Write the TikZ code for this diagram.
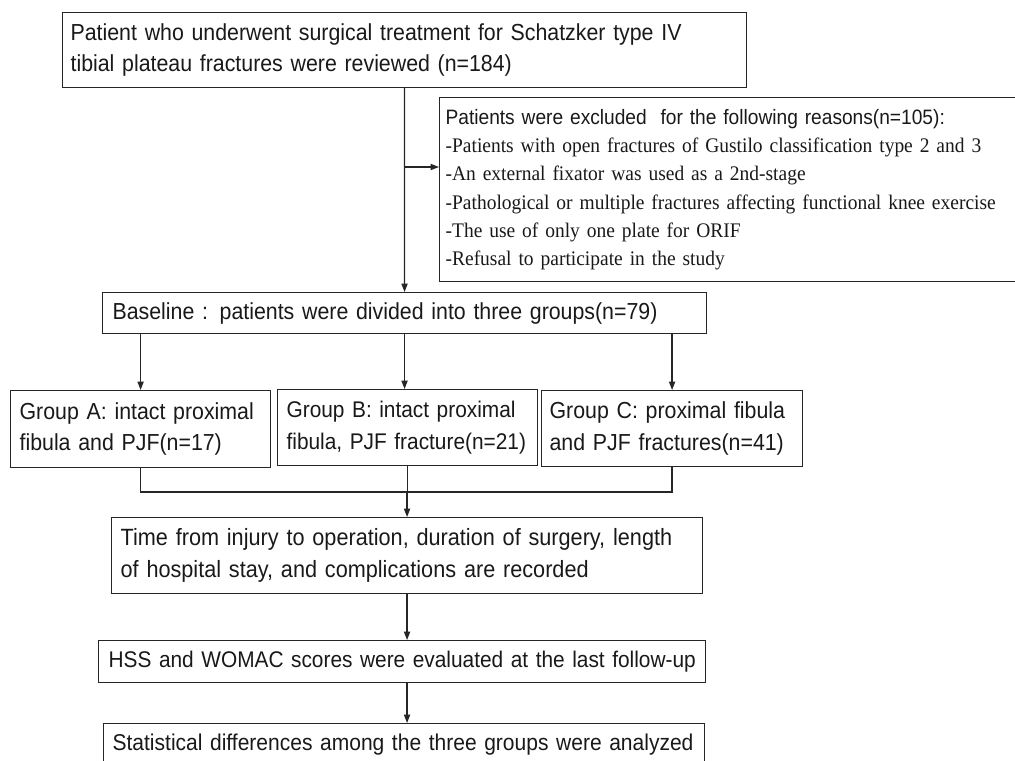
\documentclass[tikz,border=0pt]{standalone}
\usepackage{fontspec}
\setmainfont{Liberation Sans}[FakeStretch=0.92]
\newfontfamily\serifx{Liberation Serif}[FakeStretch=0.94]
\usetikzlibrary{arrows.meta}
\begin{document}
\begin{tikzpicture}[x=0.02cm,y=-0.02cm,
  box/.style={draw=black!85, line width=0.7pt, anchor=north west, inner ysep=0pt,
    align=left, text=black!90, font=\fontsize{13.2}{18}\selectfont},
  conn/.style={draw=black!85, line width=0.7pt},
  arr/.style={conn, -{Triangle[length=1.7mm,width=1.25mm]}}]
\useasboundingbox (0,0) rectangle (1015,761);
\node[box, minimum width=13.68cm, minimum height=1.5cm, text width=13.36cm, inner xsep=0.16cm]
  (top) at (62,12) {\mbox{Patient who underwent surgical treatment for Schatzker type IV}\\\mbox{tibial plateau fractures were reviewed (n=184)}};
\node[box, minimum width=11.82cm, minimum height=3.68cm, text width=11.58cm, inner xsep=0.12cm,
  font=\serifx\fontsize{11.8}{16.1}\selectfont]
  (excl) at (439,97) {\mbox{\rmfamily\fontsize{11.85}{16.1}\selectfont Patients were excluded\ \ for the following reasons(n=105):}\\
  \mbox{-Patients with open fractures of Gustilo classification type 2 and 3}\\
  \mbox{-An external fixator was used as a 2nd-stage}\\
  \mbox{-Pathological or multiple fractures affecting functional knee exercise}\\
  \mbox{-The use of only one plate for ORIF}\\
  \mbox{-Refusal to participate in the study}};
\node[box, minimum width=12.08cm, minimum height=0.82cm, text width=11.68cm, inner xsep=0.2cm]
  (base) at (102,292) {\mbox{Baseline : patients were divided into three groups(n=79)}};
\node[box, minimum width=5.2cm, minimum height=1.54cm, text width=4.84cm, inner xsep=0.18cm]
  (gA) at (10,390) {\mbox{Group A: intact proximal}\\\mbox{fibula and PJF(n=17)}};
\node[box, minimum width=5.2cm, minimum height=1.52cm, text width=4.84cm, inner xsep=0.18cm,
  font=\fontsize{12.9}{18}\selectfont]
  (gB) at (277,389) {\mbox{Group B: intact proximal}\\\mbox{fibula, PJF fracture(n=21)}};
\node[box, minimum width=5.22cm, minimum height=1.52cm, text width=4.9cm, inner xsep=0.16cm]
  (gC) at (541,390) {\mbox{Group C: proximal fibula}\\\mbox{and PJF fractures(n=41)}};
\node[box, minimum width=11.82cm, minimum height=1.52cm, text width=11.46cm, inner xsep=0.18cm,
  font=\fontsize{13.4}{18}\selectfont]
  (time) at (111,517) {\mbox{Time from injury to operation, duration of surgery, length}\\\mbox{of hospital stay, and complications are recorded}};
\node[box, minimum width=12.14cm, minimum height=0.84cm, text width=11.74cm, inner xsep=0.2cm,
  font=\fontsize{12.9}{18}\selectfont]
  (hss) at (98,640) {\mbox{HSS and WOMAC scores were evaluated at the last follow-up}};
\node[box, minimum width=12.02cm, minimum height=0.84cm, text width=11.66cm, inner xsep=0.18cm,
  font=\fontsize{13.0}{18}\selectfont]
  (stat) at (103,723) {\mbox{Statistical differences among the three groups were analyzed}};
\coordinate (by) at (0,167);
\coordinate (my) at (0,492);
\draw[arr] (top.south) -- (base.north);
\draw[arr] (top.south |- by) -- (excl.west |- by);
\draw[arr] (base.south -| gA.north) -- (gA.north);
\draw[arr] (base.south) -- (base.south |- gB.north);
\draw[arr] (base.south -| gC.north) -- (gC.north);
\draw[conn] (gA.south) -- (gA.south |- my) -- (gC.south |- my) -- (gC.south);
\draw[conn] (gB.south) -- (gB.south |- my);
\draw[arr] (time.north |- my) -- (time.north);
\draw[arr] (time.south) -- (time.south |- hss.north);
\draw[arr] (time.south |- hss.south) -- (time.south |- stat.north);
\end{tikzpicture}
\end{document}
